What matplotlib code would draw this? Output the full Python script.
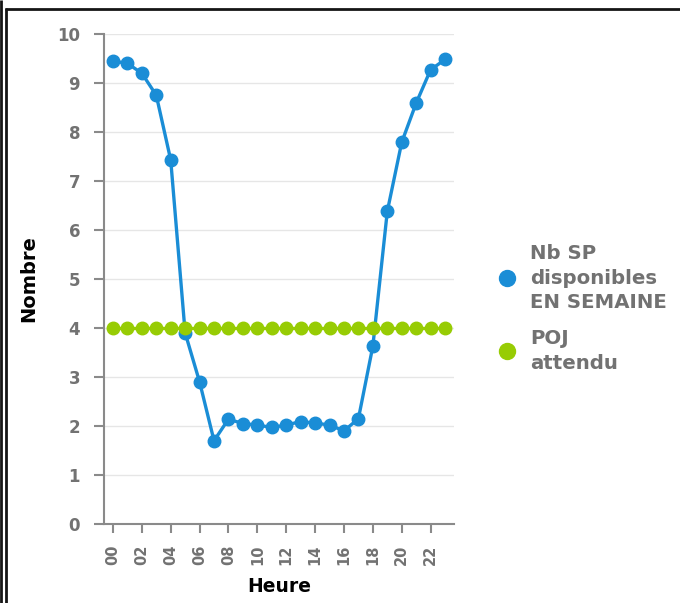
import matplotlib
matplotlib.use("Agg")
import matplotlib.pyplot as plt
from matplotlib.lines import Line2D

plt.rcParams['font.family'] = ['DejaVu Sans']

# Data
hours = list(range(24))
hour_labels = [f"{h:02d}" for h in hours]
sp_disponibles = [9.45, 9.40, 9.20, 8.75, 7.43, 3.90, 2.90, 1.70, 2.14, 2.05, 2.02, 1.97,
                  2.02, 2.09, 2.06, 2.02, 1.90, 2.15, 3.63, 6.38, 7.79, 8.59, 9.27, 9.48]
poj_attendu = [4] * 24
series_names = ["Nb SP\ndisponibles\nEN SEMAINE", "POJ\nattendu"]
y_ticks = list(range(0, 11))

BLUE = '#1a8dd6'
GREEN = '#97cc04'
AXIS_GREY = '#8a8a8a'
TEXT_GREY = '#727272'

W, H = 680, 603


def fx(x):
    return x / W


def fy(y):
    return 1 - y / H


fig = plt.figure(figsize=(W / 100, H / 100), dpi=100)
ax = fig.add_axes([fx(104), 1 - 524 / H, 350 / W, 490 / H])

ax.set_xlim(-0.62, 23.62)
ax.set_ylim(0, 10)

# Horizontal grid
for v in y_ticks[1:]:
    ax.axhline(v, color='#e6e6e6', lw=1.0, zorder=0)

# Series 1: available units per hour
ax.plot(hours, sp_disponibles, color=BLUE, lw=2.4, marker='o', ms=9,
        mec=BLUE, zorder=4, clip_on=False, solid_joinstyle='round')

# Series 2: expected level
ax.plot(hours, poj_attendu, color=GREEN, lw=2.4, marker='o', ms=9,
        mec=GREEN, zorder=5, clip_on=False)

# Axes styling
for side in ('top', 'right'):
    ax.spines[side].set_visible(False)
for side in ('left', 'bottom'):
    ax.spines[side].set_color(AXIS_GREY)
    ax.spines[side].set_linewidth(1.5)

ax.set_yticks(y_ticks)
ax.set_yticklabels([str(v) for v in y_ticks])
ax.tick_params(axis='y', length=7.2, width=1.5, color=AXIS_GREY, pad=10,
               labelsize=12, labelcolor=TEXT_GREY)

ax.set_xticks(hours[::2])
ax.set_xticklabels(hour_labels[::2], rotation=90)
ax.tick_params(axis='x', length=6.5, width=1.5, color=AXIS_GREY, pad=8.5,
               labelsize=10.5, labelcolor=TEXT_GREY)
for lbl in ax.get_xticklabels() + ax.get_yticklabels():
    lbl.set_fontweight('bold')

ax.set_xlabel('Heure', fontsize=13.5, fontweight='bold', color='black')
ax.xaxis.set_label_coords(0.5, (524 - 586) / 490)
ax.xaxis.label.set_va('center')
ax.set_ylabel('Nombre', fontsize=14, fontweight='bold', color='black')
ax.yaxis.set_label_coords((29 - 104) / 350, 0.5)
ax.yaxis.label.set_va('center')
ax.yaxis.label.set_ha('center')

# Legend
legend_items = [(series_names[0], BLUE, 278), (series_names[1], GREEN, 351)]
for name, col, yc in legend_items:
    fig.add_artist(Line2D([fx(507)], [fy(yc)], marker='o', ms=11.5, color=col,
                          mec=col, linestyle='none', transform=fig.transFigure))
    fig.text(fx(530), fy(yc), name, ha='left', va='center', fontsize=14.2,
             fontweight='bold', color=TEXT_GREY, linespacing=1.38)

# Frame around the chart
frame_kw = dict(color='#151515', transform=fig.transFigure, solid_capstyle='butt')
fig.add_artist(Line2D([fx(1.3), fx(1.3)], [0, 1], lw=2.0, **frame_kw))
fig.add_artist(Line2D([fx(6.3), fx(6.3)], [0, fy(8)], lw=2.0, **frame_kw))
fig.add_artist(Line2D([fx(5.3), 1], [fy(9), fy(9)], lw=2.0, **frame_kw))

fig.savefig('out.png', dpi=100)
